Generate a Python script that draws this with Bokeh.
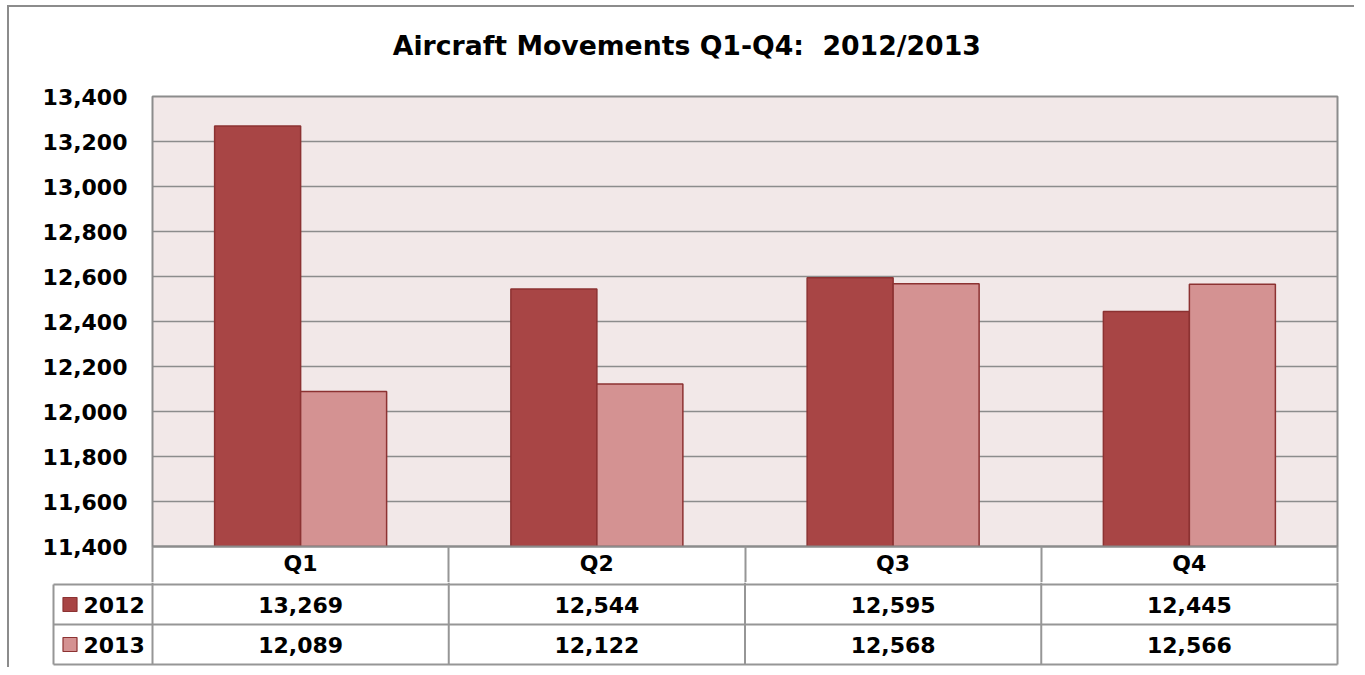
from bokeh.plotting import figure
from bokeh.models import Range1d, FixedTicker, NumeralTickFormatter, Title, ColumnDataSource
from bokeh.layouts import column
from bokeh.core.properties import value
from bokeh.embed import file_html
from bokeh.resources import INLINE

# ---------------- data ----------------
quarters = ["Q1", "Q2", "Q3", "Q4"]
series = ["2012", "2013"]
values_2012 = [13269, 12544, 12595, 12445]
values_2013 = [12089, 12122, 12568, 12566]
y_ticks = [11400, 11600, 11800, 12000, 12200, 12400, 12600, 12800, 13000, 13200, 13400]
title_text = "Aircraft Movements Q1-Q4:\u00a0 2012/2013"

# ---------------- style ----------------
FONT = "DejaVu Sans"
C2012 = "#A84545"
C2013 = "#D49292"
EDGE = "#8C3232"
BG = "#F2E8E8"
GRID = "#8C8C8C"
TLINE = "#969696"

# ---------------- layout (page px) ----------------
OX, OY = 9, 7          # top-left of the content, inside the outer border
W = 1345
PLOT_L, PLOT_R, PLOT_T, PLOT_B = 152, 1337, 96, 546
HEAD_B = 582
TABLE_L = 53
ROW_H = 40
TABLE_B = 664
FIG_B = 667
TITLE_CX = 686
TITLE_SIZE = 26.7
TITLE_EM = 22.0
TITLE_GAP = 32      # extra space between title and plot area

n = len(quarters)
UNIT = (PLOT_R - PLOT_L) / n
BAR_W = 86 / UNIT

centers = [i + 0.5 for i in range(n)]

# ---------------- chart ----------------
top = figure(width=W, height=HEAD_B - OY, title=None,
             x_range=Range1d(0, n), y_range=Range1d(y_ticks[0], y_ticks[-1]),
             output_backend="svg", toolbar_location=None, tools="",
             min_border_left=PLOT_L - OX, min_border_right=OX + W - PLOT_R,
             min_border_top=PLOT_T - OY, min_border_bottom=HEAD_B - PLOT_B)
top.frame_align = False
top.background_fill_color = BG
top.border_fill_color = "white"
top.outline_line_color = GRID
top.outline_line_width = 2

src = ColumnDataSource(dict(
    x12=[c - BAR_W / 2 for c in centers],
    x13=[c + BAR_W / 2 for c in centers],
    v12=values_2012, v13=values_2013))
top.vbar(x="x12", top="v12", bottom=y_ticks[0], width=BAR_W, source=src,
         fill_color=C2012, line_color=EDGE, line_width=1.5)
top.vbar(x="x13", top="v13", bottom=y_ticks[0], width=BAR_W, source=src,
         fill_color=C2013, line_color=EDGE, line_width=1.5)

top.xgrid.visible = False
top.ygrid.ticker = FixedTicker(ticks=y_ticks)
top.ygrid.grid_line_color = GRID
top.ygrid.grid_line_width = 1.5

ya = top.yaxis[0]
ya.ticker = FixedTicker(ticks=y_ticks)
ya.formatter = NumeralTickFormatter(format="0,0")
ya.axis_line_color = None
ya.major_tick_line_color = None
ya.major_tick_in = 0
ya.major_tick_out = 0
ya.minor_tick_line_color = None
ya.major_label_standoff = 25
ya.major_label_text_font = FONT
ya.major_label_text_font_style = "bold"
ya.major_label_text_font_size = "22px"
ya.major_label_text_color = "#000000"

xa = top.xaxis[0]
xa.ticker = FixedTicker(ticks=centers, minor_ticks=list(range(n + 1)))
xa.major_label_overrides = {c: q for c, q in zip(centers, quarters)}
xa.axis_line_color = GRID
xa.axis_line_width = 2
xa.major_tick_line_color = None
xa.major_tick_in = 0
xa.major_tick_out = 0
xa.minor_tick_in = 0
xa.minor_tick_out = 40
xa.minor_tick_line_color = TLINE
xa.minor_tick_line_width = 2
xa.major_label_standoff = -36
xa.major_label_text_font = FONT
xa.major_label_text_font_style = "bold"
xa.major_label_text_font_size = "22px"
xa.major_label_text_color = "#000000"

# spacer between title and plot area (a blank, tiny title panel)
spacer = Title(text=" ", standoff=TITLE_GAP, text_font_size="2px", text_color="white")
top.add_layout(spacer, "above")

title_w = TITLE_EM * TITLE_SIZE
title = Title(text=title_text, align="left", offset=TITLE_CX - title_w / 2 - PLOT_L,
              vertical_align="bottom", standoff=0,
              text_font=FONT, text_font_style="bold", text_font_size=f"{TITLE_SIZE}px",
              text_color="#000000")
top.add_layout(title, "above")

# ---------------- data table ----------------
x_lab = (TABLE_L - PLOT_L) / UNIT
bot = figure(width=W, height=FIG_B - HEAD_B,
             x_range=Range1d((TABLE_L - 2 - PLOT_L) / UNIT, n + 2 / UNIT),
             y_range=Range1d(-(FIG_B - TABLE_B) / ROW_H, (TABLE_B - HEAD_B) / ROW_H),
             output_backend="svg", toolbar_location=None, tools="",
             x_axis_location=None, y_axis_location=None,
             min_border_left=TABLE_L - 2 - OX, min_border_right=OX + W - (PLOT_R + 2),
             min_border_top=0, min_border_bottom=0)
bot.frame_align = False
bot.outline_line_color = None
bot.border_fill_color = "white"
bot.background_fill_color = "white"
bot.grid.visible = False

top_y = (TABLE_B - HEAD_B) / ROW_H
rows = len(series)
h_lines = dict(x0=[x_lab] * (rows + 1), x1=[n] * (rows + 1),
               y0=list(range(rows + 1)), y1=list(range(rows + 1)))
bot.segment(x0="x0", y0="y0", x1="x1", y1="y1", source=ColumnDataSource(h_lines),
            line_color=TLINE, line_width=2)
v_x = [x_lab] + list(range(n + 1))
v_top = [rows] + [top_y] * (n + 1)
bot.segment(x0=v_x, y0=[0] * len(v_x), x1=v_x, y1=v_top, line_color=TLINE, line_width=2)

row_y = [rows - 0.5 - i for i in range(rows)]
sq_x = (69.5 - PLOT_L) / UNIT
txt_x = (83 - PLOT_L) / UNIT
bot.scatter(x=[sq_x] * rows, y=row_y, marker="square", size=14,
            fill_color=[C2012, C2013], line_color=EDGE, line_width=1.2)
bot.text(x=[txt_x] * rows, y=row_y, text=series, text_align="left", text_baseline="middle",
         text_font=value(FONT), text_font_style="bold", text_font_size="22px", text_color="#000000")

cell_x, cell_y, cell_t = [], [], []
for vals, ry in zip([values_2012, values_2013], row_y):
    for c, v in zip(centers, vals):
        cell_x.append(c)
        cell_y.append(ry)
        cell_t.append(f"{v:,}")
bot.text(x=cell_x, y=cell_y, text=cell_t, text_align="center", text_baseline="middle",
         text_font=value(FONT), text_font_style="bold", text_font_size="22px", text_color="#000000")

layout = column(top, bot, styles={"margin-left": "7px", "margin-top": "5px",
                                  "border-left": "2px solid #8c8c8c",
                                  "border-top": "2px solid #8c8c8c"})

open("out.html", "w").write(file_html(layout, INLINE))
